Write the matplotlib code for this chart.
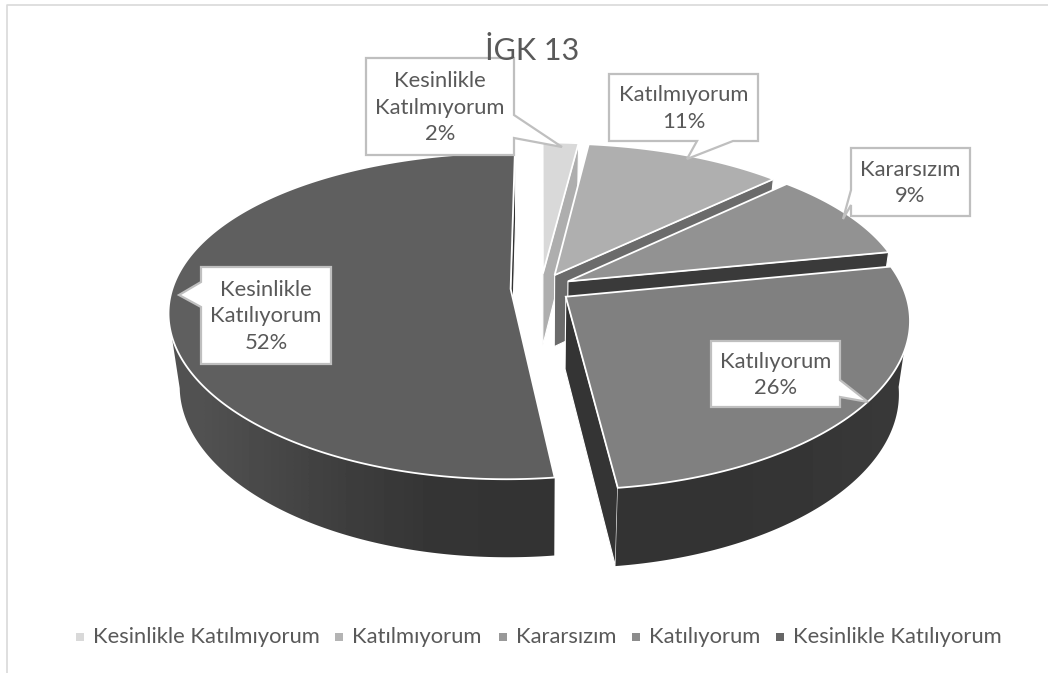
# Exploded 3D style pie drawn by hand, matplotlib has no perspective pie
import numpy as np
import matplotlib
matplotlib.use('Agg')
import matplotlib.pyplot as plt
from matplotlib.patches import Polygon

categories = ['Kesinlikle Katılmıyorum', 'Katılmıyorum', 'Kararsızım', 'Katılıyorum', 'Kesinlikle Katılıyorum']
values = [2, 11, 9, 26, 52]
title = 'İGK 13'

top_colors = ['#d9d9d9', '#afafaf', '#929292', '#808080', '#5f5f5f']
radial_colors = ['#aeaeae', '#6b6b6b', '#3a3a3a', '#343434', '#333333']
legend_colors = ['#d9d9d9', '#b4b4b4', '#999999', '#8c8c8c', '#666666']
TEXT = '#595959'
FONT = 'Lato'

W, H = 1048, 673
CX, CY = 541, 288
A, B0, B1 = 338, 163, 27
PERSP = 0.14
DEPTH = 72
EXPLODE = 0.09


def project(u, v, h=0.0):
    """Unit disc point (v towards the viewer) to pixels, h is 0 top to 1 bottom."""
    x = CX + A * u * (1 + PERSP * v) * (1 - 0.03 * h)
    y = CY + v * (B0 + B1 * v) + h * (DEPTH + 6 * v)
    return x, y


fig = plt.figure(figsize=(W / 100, H / 100), dpi=100)
ax = fig.add_axes([0, 0, 1, 1])

# chart frame
ax.plot([6.5, 6.5, W], [H, 4.5, 4.5], color='#d9d9d9', lw=1.2)

# horizontal shading used on the outer wall, darker towards the front
wall_shade = np.array([[0.32, 0.28, 0.24, 0.21, 0.20, 0.20, 0.20, 0.20, 0.21, 0.22]])

# angles run clockwise from 12 o'clock
edges = np.cumsum([0] + values) / sum(values) * 2 * np.pi

for i, val in enumerate(values):
    t0, t1 = edges[i], edges[i + 1]
    mid = (t0 + t1) / 2
    ou, ov = EXPLODE * np.sin(mid), -EXPLODE * np.cos(mid)
    t = np.linspace(t0, t1, max(int(val * 5), 12))
    u, v = ou + np.sin(t), ov - np.cos(t)
    zo = 2 + i

    # radial wall on the clockwise side of the slice
    eu, ev = ou + np.sin(t1), ov - np.cos(t1)
    wall = [project(ou, ov), project(eu, ev), project(eu, ev, 1), project(ou, ov, 1)]
    ax.add_patch(Polygon(wall, closed=True, fc=radial_colors[i], ec='white', lw=0.8, zorder=zo))

    # outer wall, starts about where the rim is widest on screen
    front = v > 0.15
    if front.any():
        px, py = project(u[front], v[front])
        bx, by = project(u[front], v[front], 1)
        outline = np.column_stack([np.r_[px, bx[::-1]], np.r_[py, by[::-1]]])
        patch = Polygon(outline, closed=True, fc='none', ec='none', zorder=zo)
        ax.add_patch(patch)
        img = ax.imshow(wall_shade, cmap='gray', vmin=0, vmax=1, aspect='auto', interpolation='bilinear',
                        extent=(160, 920, 570, 300), zorder=zo)
        img.set_clip_path(patch)

    # top face
    px, py = project(u, v)
    ax_, ay_ = project(ou, ov)
    pts = np.column_stack([np.r_[ax_, px], np.r_[ay_, py]])
    ax.add_patch(Polygon(pts, closed=True, fc=top_colors[i], ec='white', lw=1.3, zorder=zo + 0.5))

ax.set_xlim(0, W)
ax.set_ylim(H, 0)
ax.axis('off')

# callouts: box (x0, y0, x1, y1), pointer points, text
boxes = [
    ((366, 58, 514, 155), [(514, 115), (562, 147), (514, 138)], 'right', 'Kesinlikle\nKatılmıyorum\n2%'),
    ((609, 74, 758, 141), [(697, 141), (687, 159), (733, 141)], 'bottom', 'Katılmıyorum\n11%'),
    ((851, 148, 970, 216), [(851, 190), (843, 219), (851, 205)], 'left', 'Kararsızım\n9%'),
    ((711, 341, 840, 407), [(840, 380), (868, 402), (840, 397)], 'right', 'Katılıyorum\n26%'),
    ((201, 267, 331, 364), [(201, 282), (179, 295), (201, 307)], 'left', 'Kesinlikle\nKatılıyorum\n52%'),
]
for (x0, y0, x1, y1), ptr, side, label in boxes:
    if side == 'right':
        shape = [(x0, y0), (x1, y0)] + ptr + [(x1, y1), (x0, y1)]
    elif side == 'left':
        shape = [(x0, y0), (x1, y0), (x1, y1), (x0, y1)] + ptr[::-1]
    else:
        shape = [(x0, y0), (x1, y0), (x1, y1)] + ptr[::-1] + [(x0, y1)]
    ax.add_patch(Polygon(shape, closed=True, fc='white', ec='#bfbfbf', lw=1.6, zorder=20, joinstyle='miter'))
    ax.text((x0 + x1) / 2, (y0 + y1) / 2 + 1, label, ha='center', va='center', fontsize=15.8,
            color=TEXT, family=FONT, linespacing=1.42, zorder=21)

ax.text(532, 60, title, ha='center', va='baseline', fontsize=22, color=TEXT, family=FONT, zorder=22)

# legend
legend_x = [80, 339, 503, 636, 780]
for x, name, col in zip(legend_x, categories, legend_colors):
    ax.add_patch(Polygon([(x - 4, 633), (x + 4, 633), (x + 4, 641), (x - 4, 641)], closed=True, fc=col, ec='none'))
    ax.text(x + 13, 643, name, ha='left', va='baseline', fontsize=15.8, color=TEXT, family=FONT)

fig.savefig('out.png', dpi=100)
